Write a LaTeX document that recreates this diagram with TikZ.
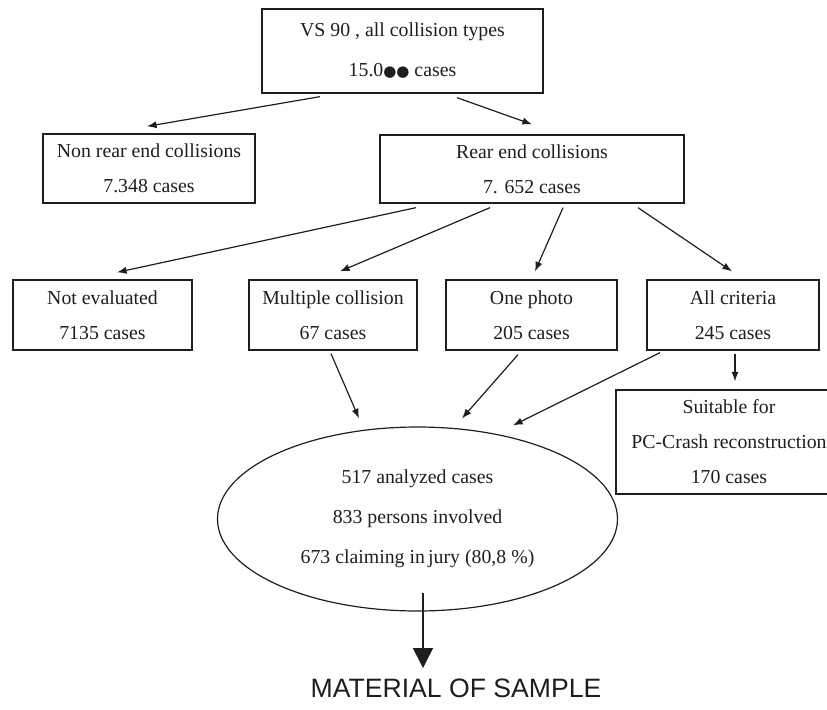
\documentclass[tikz,border=0pt]{standalone}
\usepackage{fontspec}
\setmainfont{Liberation Serif}
\newfontfamily\capfont{Liberation Sans}
\newfontfamily\blobfont{DejaVu Sans}
\usetikzlibrary{arrows.meta,calc,shapes.geometric}
\definecolor{ink}{HTML}{1E1E1E}
\tikzset{
  box/.style={draw=ink,line width=0.65pt,inner sep=0pt,align=center,text=ink,font=\fontsize{9.9}{17.5}\selectfont},
  widebox/.style={box,font=\fontsize{9.9}{20}\selectfont},
  oval/.style={ellipse,draw=ink,line width=0.6pt,inner sep=0pt,minimum width=200pt,minimum height=92pt,align=center,text=ink,font=\fontsize{9.9}{20}\selectfont},
  arrow/.style={-{Latex[length=4.8pt,width=3.6pt]},draw=ink,line width=0.6pt},
  bigarrow/.style={-{Triangle[length=10pt,width=10pt]},draw=ink,fill=ink,line width=0.7pt},
  caption/.style={text=ink,font=\capfont\fontsize{13.3}{15}\selectfont,inner sep=0pt,anchor=base}
}

\begin{document}
\begin{tikzpicture}[x=0.5pt,y=-0.5pt]
  \path[use as bounding box] (0,0) rectangle (827,709);

  % All collisions and the first split.
  \node[widebox,minimum width=140.5pt,minimum height=42pt] (vs) at (402.5,51)
    {VS 90 , all collision types\\15.0{\blobfont\fontsize{7.5}{8}\selectfont ●●} cases};
  \node[box,minimum width=106pt,minimum height=34.5pt] (nonrear) at (149,168.5)
    {Non rear end collisions\\7.348 cases};
  \node[box,minimum width=152pt,minimum height=34pt] (rear) at (532,169)
    {Rear end collisions\\7. 652 cases};
  \draw[arrow] ([shift={(-82.5,3)}]vs.south) -- ([shift={(-2,-7)}]nonrear.north);
  \draw[arrow] ([shift={(54.5,4)}]vs.south) -- ([shift={(0,-10)}]rear.north);

  % Rear end collisions by criteria.
  \node[box,minimum width=89.5pt,minimum height=35pt] (noteval) at (102.5,315)
    {Not evaluated\\7135 cases};
  \node[box,minimum width=84pt,minimum height=35pt] (multiple) at (333,315)
    {Multiple collision\\67 cases};
  \node[box,minimum width=85.5pt,minimum height=35pt] (photo) at (531.5,315)
    {One photo\\205 cases};
  \node[box,minimum width=86pt,minimum height=35pt] (allcrit) at (733,315)
    {All criteria\\245 cases};
  \draw[arrow] ([shift={(-116,4)}]rear.south) -- ([shift={(14.5,-7)}]noteval.north);
  \draw[arrow] ([shift={(-42,4)}]rear.south) -- ([shift={(7,-8)}]multiple.north);
  \draw[arrow] ([shift={(31,4)}]rear.south) -- ([shift={(3.5,-8)}]photo.north);
  \draw[arrow] ([shift={(106,4)}]rear.south) -- ([shift={(-1,-8)}]allcrit.north);

  % Sample and reconstruction subset.
  \node[box,minimum width=113pt,minimum height=52pt] (suitable) at (729,442)
    {Suitable for\\PC-Crash reconstruction\\170 cases};
  \draw[arrow] ([shift={(2,3)}]allcrit.south) -- ([shift={(6,-8)}]suitable.north);

  \node[oval] (sample) at (417.5,519)
    {517 analyzed cases\\833 persons involved\\673 claiming in\,jury (80,8 \%)};
  \draw[arrow] ([shift={(-2,3)}]multiple.south) -- ([shift={(-58.5,-8)}]sample.north);
  \draw[arrow] ([shift={(-13.5,4)}]photo.south) -- ([shift={(44.5,-8)}]sample.north);
  \draw[arrow] ([shift={(-73,2)}]allcrit.south) -- ([shift={(95.5,-1)}]sample.north);

  \node[caption] (material) at (456,697) {MATERIAL OF SAMPLE};
  \draw[bigarrow] ([shift={(5.5,74)}]sample.center) -- ([shift={(-33,-10)}]material.north);
\end{tikzpicture}
\end{document}
